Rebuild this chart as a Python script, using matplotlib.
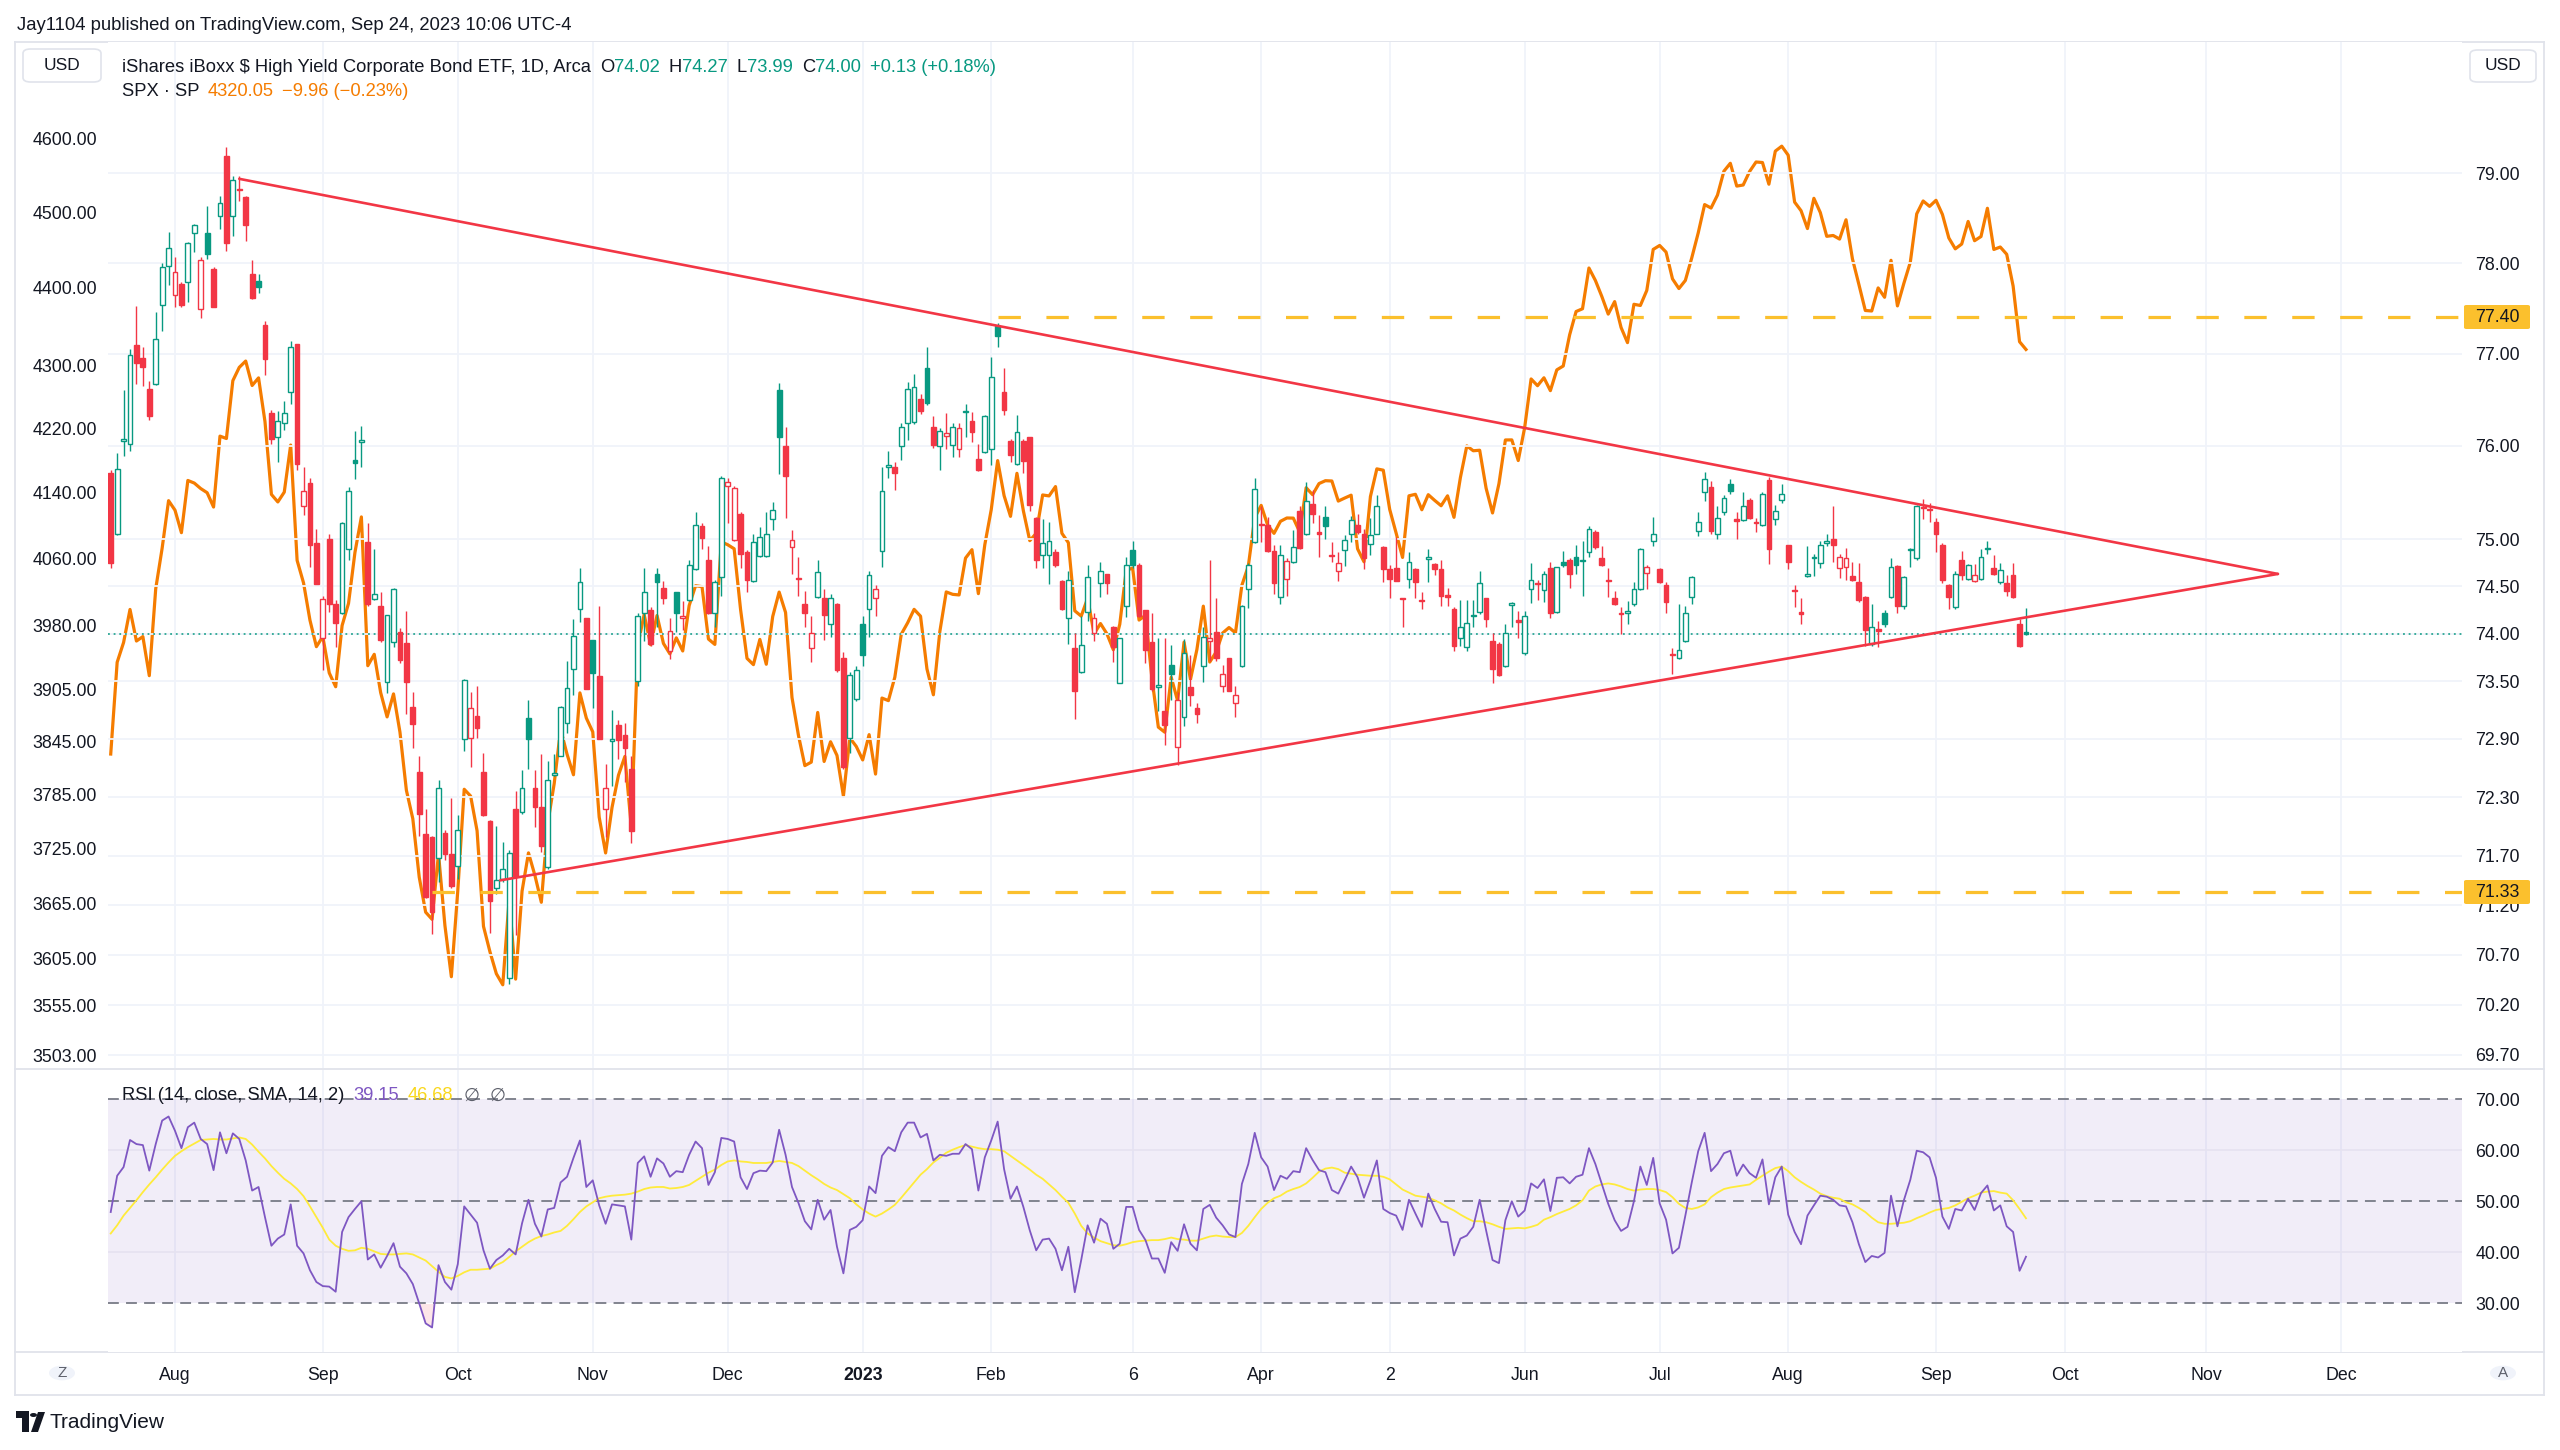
import numpy as np
import pandas as pd
import matplotlib
matplotlib.use("Agg")
import matplotlib.pyplot as plt
from matplotlib.ticker import NullLocator, FixedLocator, FixedFormatter
from matplotlib.patches import Rectangle, FancyBboxPatch, Circle, Polygon
import matplotlib.transforms as mtransforms

plt.rcParams['font.family'] = ['Liberation Sans', 'DejaVu Sans']

# ---------------------------------------------------------------- data
# HYG daily bars, 2022-07-18 .. 2023-09-22
hyg_open = [
 75.71,75.05,76.05,76.02,77.10,76.96,76.62,76.67,77.54,77.97,
 77.65,77.77,77.79,78.34,77.49,78.33,77.93,78.52,79.20,78.52,
 78.83,78.74,77.88,77.80,77.32,76.36,76.10,76.25,76.58,77.11,
 75.35,75.60,74.96,73.95,75.00,74.31,74.22,74.90,75.85,76.04,
 74.97,74.36,74.29,73.49,73.91,74.02,73.90,73.23,72.56,71.92,
 71.89,71.68,71.93,71.72,71.60,72.90,72.91,73.14,72.56,72.06,
 71.37,71.46,70.47,72.18,72.15,73.12,72.39,72.20,71.59,72.53,
 72.72,73.07,73.63,74.26,74.16,73.93,73.56,72.18,72.88,73.04,
 72.94,72.59,73.50,74.22,74.25,74.63,74.48,73.82,74.44,74.16,
 74.35,74.68,75.14,74.78,74.22,74.60,75.57,74.99,75.27,74.86,
 74.55,74.82,74.82,75.22,76.61,76.00,74.92,74.59,74.31,73.85,
 74.39,74.37,74.10,74.31,73.74,72.91,73.32,74.10,74.26,74.37,
 74.87,75.77,75.77,76.00,76.25,76.26,76.51,76.85,76.21,76.00,
 76.11,76.01,75.97,76.37,76.27,75.86,75.93,75.97,77.31,76.59,
 76.05,75.80,76.05,76.10,75.23,74.83,74.83,74.86,74.55,74.16,
 73.85,73.60,74.23,74.01,74.53,74.63,74.07,73.48,74.29,74.88,
 74.73,74.25,73.91,73.44,73.19,73.67,72.82,73.13,73.44,73.22,
 73.66,73.92,74.02,73.45,73.74,73.27,73.66,74.47,74.97,75.16,
 75.15,74.87,74.39,74.58,74.76,75.30,75.05,75.38,75.07,75.24,
 74.83,74.66,74.88,75.05,75.15,75.06,74.95,75.06,74.92,74.68,
 74.69,74.37,74.58,74.68,74.35,74.79,74.74,74.68,74.41,74.26,
 73.95,73.86,74.18,74.23,74.38,73.92,73.89,73.66,74.30,74.14,
 73.80,74.47,74.53,74.46,74.69,74.23,74.76,74.78,74.81,74.77,
 74.86,75.08,74.80,74.56,74.37,74.22,74.22,74.31,74.47,74.64,
 74.98,74.68,74.51,73.78,73.74,73.92,74.39,75.09,75.50,75.56,
 75.06,75.29,75.59,75.21,75.20,75.42,75.18,75.15,75.63,75.21,
 75.42,74.94,74.46,74.23,74.61,74.80,74.75,74.96,75.00,74.69,
 74.70,74.61,74.54,74.39,73.89,74.05,74.22,74.39,74.71,74.29,
 74.88,74.80,75.34,75.32,75.18,74.94,74.51,74.28,74.78,74.58,
 74.56,74.58,74.89,74.69,74.54,74.53,74.62,74.10,74.02]
hyg_high = [
 75.74,75.92,76.61,77.05,77.53,77.08,76.70,77.46,78.00,78.35,
 78.07,77.79,78.24,78.43,78.07,78.64,77.96,78.75,79.30,78.97,
 78.97,78.75,78.03,77.88,77.36,76.39,76.38,76.49,77.14,77.11,
 75.77,75.65,75.11,74.40,75.06,74.35,75.18,75.56,76.16,76.22,
 75.17,74.90,74.44,74.20,74.48,74.06,74.24,73.39,72.72,72.18,
 71.90,72.48,71.96,72.29,72.12,73.52,73.39,73.45,72.76,72.07,
 72.00,71.84,71.76,72.36,72.58,73.31,72.58,72.74,72.67,72.74,
 73.24,73.71,74.15,74.69,74.16,73.93,74.29,72.64,73.20,73.10,
 73.07,72.72,74.22,74.69,74.28,74.69,74.56,74.16,74.44,74.34,
 74.78,75.29,75.17,74.93,74.57,75.68,75.65,75.57,75.29,74.88,
 75.06,75.13,75.29,75.40,76.68,76.21,75.10,74.81,74.45,74.19,
 74.78,74.47,74.42,74.32,73.81,73.60,73.66,74.19,74.66,74.51,
 75.77,75.94,75.83,76.25,76.69,76.78,76.56,77.08,76.32,76.19,
 76.36,76.25,76.25,76.45,76.37,76.02,76.33,76.97,77.34,76.85,
 76.07,76.34,76.07,76.10,75.24,75.21,75.18,74.90,74.57,74.66,
 74.01,74.19,74.72,74.22,74.76,74.63,74.08,73.95,74.81,74.98,
 74.75,74.25,74.22,73.95,73.95,73.88,73.39,73.94,73.77,73.27,
 74.07,74.78,74.37,73.67,73.74,73.45,74.30,74.75,75.65,75.35,
 75.24,74.94,74.94,74.80,75.10,75.35,75.61,75.53,75.26,75.35,
 74.97,74.86,75.04,75.25,75.27,75.11,75.23,75.47,74.93,74.72,
 75.02,74.38,74.86,74.69,74.44,74.90,74.75,74.78,74.48,74.28,
 74.35,74.35,74.35,74.66,74.38,74.01,73.91,74.10,74.33,74.24,
 74.24,74.75,74.57,74.66,74.76,74.70,74.87,74.80,74.94,74.98,
 75.14,75.10,74.93,74.69,74.45,74.28,74.34,74.54,74.91,74.72,
 75.24,74.69,74.54,73.85,74.31,74.29,74.61,75.29,75.72,75.62,
 75.35,75.47,75.64,75.29,75.50,75.44,75.23,75.50,75.66,75.36,
 75.59,74.94,74.51,74.37,74.93,74.84,74.98,75.05,75.35,74.84,
 74.91,74.76,74.75,74.40,74.31,74.13,74.25,74.80,74.72,74.61,
 74.91,75.36,75.43,75.39,75.23,74.96,74.52,74.66,74.87,74.74,
 74.74,74.90,74.98,74.83,74.75,74.62,74.75,74.15,74.27]
hyg_low = [
 74.69,75.04,75.89,75.94,76.67,76.65,76.28,76.66,77.25,77.76,
 77.51,77.51,77.57,78.12,77.39,78.05,77.51,78.38,78.13,78.30,
 78.69,78.25,77.60,77.67,76.77,76.02,75.83,76.17,76.45,75.74,
 75.26,74.70,74.52,73.62,74.23,73.86,74.21,74.78,75.64,75.77,
 74.29,74.35,73.91,73.38,73.86,73.69,73.16,72.81,71.90,71.27,
 70.91,71.43,71.66,71.37,71.46,72.78,72.61,72.91,72.11,70.92,
 71.31,71.43,70.41,70.90,72.13,72.59,71.99,71.74,71.57,72.52,
 72.72,72.96,73.36,74.12,73.42,73.22,72.90,71.89,72.41,72.69,
 72.46,71.83,73.45,73.92,73.87,74.07,74.31,73.73,74.02,74.04,
 74.34,74.67,74.90,74.21,74.07,74.40,75.17,74.98,74.69,74.44,
 74.54,74.81,74.81,75.10,75.70,75.23,74.63,74.40,74.07,73.70,
 74.38,73.93,73.96,73.60,72.59,72.75,73.29,73.66,73.96,74.19,
 74.70,75.65,75.53,75.85,76.06,76.24,76.35,76.44,75.98,75.74,
 75.97,75.88,75.88,76.10,76.04,75.73,75.92,75.79,77.08,76.34,
 75.83,75.79,75.71,75.30,74.69,74.69,74.52,74.70,74.25,73.89,
 73.11,73.59,74.13,73.92,74.39,74.42,73.70,73.48,74.17,74.69,
 74.17,73.69,73.40,73.19,72.84,73.31,72.63,73.03,73.24,73.07,
 73.49,73.71,73.71,73.39,73.40,73.13,73.65,74.27,74.96,74.97,
 74.86,74.42,74.31,74.40,74.75,74.90,75.04,75.17,74.81,75.00,
 74.76,74.56,74.71,74.97,75.06,74.68,74.83,75.05,74.54,74.38,
 74.56,74.07,74.48,74.37,74.26,74.54,74.62,74.29,74.29,73.82,
 73.87,73.82,74.07,74.21,74.07,73.48,73.56,73.65,74.07,73.95,
 73.77,74.32,74.35,74.33,74.16,74.22,74.70,74.48,74.63,74.40,
 74.81,74.90,74.71,74.39,74.30,74.00,74.10,74.29,74.46,74.47,
 74.93,74.53,74.22,73.58,73.73,73.91,74.31,75.03,75.41,75.05,
 75.00,75.26,75.48,75.00,75.19,75.22,75.08,75.14,74.74,75.15,
 75.39,74.68,74.28,74.10,74.60,74.61,74.69,74.93,74.76,74.59,
 74.57,74.55,74.33,73.87,73.87,73.86,74.07,74.38,74.22,74.26,
 74.70,74.78,75.22,75.18,74.86,74.53,74.26,74.26,74.57,74.57,
 74.54,74.57,74.84,74.62,74.52,74.40,74.38,73.86,73.99]
hyg_close = [
 74.75,75.75,76.08,76.99,76.90,76.86,76.32,77.16,77.96,78.17,
 77.90,77.54,78.22,78.42,78.04,78.10,77.52,78.67,78.22,78.93,
 78.81,78.42,77.62,77.74,76.94,76.07,76.27,76.36,77.08,75.80,
 75.51,74.94,74.52,74.36,74.31,74.11,75.17,75.51,75.82,76.06,
 74.31,74.42,73.93,74.20,74.47,73.72,73.49,73.06,72.13,71.28,
 71.13,72.39,71.72,71.39,71.96,73.51,73.22,73.01,72.12,71.24,
 71.45,71.57,71.73,71.49,72.39,72.90,72.20,71.80,72.48,72.55,
 73.23,73.43,73.97,74.54,73.42,73.59,72.90,72.39,72.90,72.89,
 72.81,71.95,74.19,74.44,73.89,74.54,74.38,74.03,74.22,74.19,
 74.72,75.15,75.01,74.22,74.54,75.65,75.61,75.55,74.84,74.57,
 74.97,75.02,75.06,75.31,76.10,75.68,74.99,74.58,74.22,74.01,
 74.65,74.20,74.38,73.62,72.61,73.57,73.62,73.77,74.62,74.47,
 75.52,75.79,75.71,76.21,76.62,76.64,76.38,76.46,76.01,76.16,
 76.14,76.21,76.19,76.38,76.15,75.74,76.32,76.75,77.20,76.39,
 75.90,76.15,75.84,75.36,74.78,74.96,74.98,74.72,74.26,74.57,
 73.40,73.88,74.60,74.16,74.66,74.53,73.86,73.95,74.72,74.73,
 74.19,73.83,73.42,73.46,73.04,73.58,73.30,73.80,73.36,73.16,
 73.96,73.95,73.74,73.58,73.40,73.36,74.29,74.73,75.54,75.15,
 74.87,74.53,74.83,74.77,74.92,74.91,75.41,75.27,75.06,75.14,
 74.82,74.75,74.99,75.20,75.08,74.80,75.04,75.35,74.68,74.58,
 74.56,74.36,74.76,74.54,74.34,74.81,74.68,74.40,74.39,73.87,
 74.07,74.11,74.19,74.53,74.15,73.63,73.57,74.01,74.32,74.12,
 74.19,74.57,74.52,74.63,74.22,74.70,74.72,74.63,74.73,74.78,
 75.11,74.92,74.72,74.55,74.31,74.21,74.24,74.47,74.90,74.70,
 75.06,74.54,74.33,73.77,73.83,74.22,74.60,75.18,75.64,75.09,
 75.23,75.44,75.51,75.19,75.35,75.23,75.17,75.48,74.90,75.30,
 75.48,74.76,74.45,74.21,74.63,74.81,74.94,74.98,74.94,74.81,
 74.80,74.57,74.35,74.04,74.07,74.03,74.10,74.70,74.29,74.60,
 74.90,75.35,75.33,75.31,75.06,74.57,74.39,74.63,74.62,74.72,
 74.62,74.81,74.90,74.63,74.67,74.45,74.39,73.87,74.00]

# S&P 500 close, same days (left scale)
spx_close = [
 3830.85,3936.69,3959.90,3998.95,3961.63,3966.84,3921.05,4023.61,4072.43,4130.29,
 4118.63,4091.19,4155.17,4151.94,4145.19,4140.06,4122.47,4210.24,4207.27,4280.15,
 4297.14,4305.20,4274.04,4283.74,4228.48,4137.99,4128.73,4140.77,4199.12,4057.66,
 4030.61,3986.16,3955.00,3966.85,3924.26,3908.19,3979.87,4006.18,4067.36,4110.41,
 3932.69,3946.01,3901.35,3873.33,3899.89,3855.93,3789.93,3757.99,3693.23,3655.04,
 3647.29,3719.04,3640.47,3585.62,3678.43,3790.93,3783.28,3744.52,3639.66,3612.39,
 3588.84,3577.03,3669.91,3583.07,3677.95,3719.98,3695.16,3665.78,3752.75,3797.34,
 3859.11,3830.60,3807.30,3901.06,3871.98,3856.10,3759.69,3719.89,3770.55,3806.80,
 3828.11,3748.57,3956.37,3992.93,3957.25,3991.73,3958.79,3946.56,3965.34,3949.94,
 4003.58,4027.26,4026.12,3963.94,3957.63,4080.11,4076.57,4071.70,3998.84,3941.26,
 3933.92,3963.51,3934.38,3990.56,4019.65,3995.32,3895.75,3852.36,3817.66,3821.62,
 3878.44,3822.39,3844.82,3829.25,3783.22,3849.28,3839.50,3824.14,3852.97,3808.10,
 3895.08,3892.09,3919.25,3969.61,3983.17,3999.09,3990.97,3928.86,3898.85,3972.61,
 4019.81,4016.95,4016.22,4060.43,4070.56,4017.77,4076.60,4119.21,4179.76,4136.48,
 4111.08,4164.00,4117.86,4081.50,4090.46,4137.29,4136.13,4147.60,4090.41,4079.09,
 3997.34,3991.05,4012.32,3970.04,3982.24,3970.15,3951.39,3981.35,4045.64,4048.42,
 3986.37,3992.01,3918.32,3861.59,3855.76,3919.29,3891.93,3960.28,3916.64,3951.57,
 4002.87,3936.97,3948.72,3970.99,3977.53,3971.27,4027.81,4050.83,4109.31,4124.51,
 4100.60,4090.38,4105.02,4109.11,4108.94,4091.95,4146.22,4137.64,4151.32,4154.87,
 4154.52,4129.79,4133.52,4137.04,4071.63,4055.99,4135.35,4169.48,4167.87,4119.58,
 4090.75,4061.22,4136.25,4138.12,4119.17,4137.64,4130.62,4124.08,4136.28,4109.90,
 4158.77,4198.05,4191.98,4192.63,4145.58,4115.24,4151.28,4205.45,4205.52,4179.83,
 4221.02,4282.37,4273.79,4283.85,4267.52,4293.93,4298.86,4338.93,4369.01,4372.59,
 4425.84,4409.59,4388.71,4365.69,4381.89,4348.33,4328.82,4378.41,4376.86,4396.44,
 4450.38,4455.59,4446.82,4411.59,4398.95,4409.53,4439.26,4472.16,4510.04,4505.42,
 4522.79,4554.98,4565.72,4534.87,4536.34,4554.64,4567.46,4566.75,4537.41,4582.23,
 4588.96,4576.73,4513.39,4501.89,4478.03,4518.44,4499.38,4467.71,4468.83,4464.05,
 4489.72,4437.86,4404.33,4370.36,4369.71,4399.77,4387.55,4436.01,4376.31,4405.71,
 4433.31,4497.63,4514.87,4507.66,4515.77,4496.83,4465.48,4451.14,4457.49,4487.46,
 4461.90,4467.44,4505.10,4450.32,4453.53,4443.95,4402.20,4330.01,4320.05]

rsi_vals = [
 47.9,55.0,56.7,62.0,61.2,61.0,56.0,61.2,65.8,66.6,
 63.8,60.4,64.5,65.4,62.2,61.2,56.1,63.5,59.4,63.3,
 62.2,58.0,52.1,52.8,46.9,41.3,42.7,43.5,49.4,41.3,
 39.8,36.5,34.2,33.4,33.3,32.3,44.0,46.9,48.5,50.0,
 38.6,39.6,37.0,39.3,41.8,37.2,35.9,33.8,30.0,26.1,
 25.3,37.5,34.2,32.7,37.7,49.0,47.4,45.8,40.4,36.8,
 38.5,39.4,40.7,39.6,45.7,50.3,45.6,43.1,48.4,48.7,
 53.7,54.8,58.5,61.9,52.8,54.1,49.2,45.6,49.4,49.2,
 49.0,42.5,57.5,58.8,54.8,58.4,57.4,54.8,55.9,55.7,
 59.1,61.7,60.4,53.2,55.7,62.4,62.2,61.7,54.7,52.4,
 55.5,56.0,55.9,57.6,64.0,59.1,52.8,49.7,46.1,44.5,
 50.3,46.4,48.3,41.1,35.9,44.4,45.0,46.3,52.9,51.6,
 58.9,60.6,59.8,63.5,65.4,65.4,62.5,63.2,58.0,59.1,
 58.9,59.3,59.3,61.2,60.2,52.1,58.6,61.9,65.6,56.3,
 50.5,52.9,48.9,44.3,40.4,42.5,42.7,40.7,36.5,41.1,
 32.2,38.5,45.3,41.9,46.6,45.6,40.7,41.7,48.9,48.9,
 44.4,42.4,38.8,38.8,36.0,42.0,40.3,45.5,41.7,40.4,
 48.5,49.3,46.8,45.3,43.5,43.0,53.4,57.3,63.4,58.6,
 56.8,52.2,55.0,54.4,55.9,55.7,60.4,58.1,56.1,55.7,
 52.2,51.5,54.1,56.8,54.7,50.7,54.1,58.0,48.5,47.7,
 47.2,44.4,50.3,47.6,45.0,51.5,48.5,46.0,45.9,39.4,
 42.7,43.3,45.0,50.3,44.3,38.5,37.9,46.3,50.0,47.0,
 48.2,53.5,52.6,54.3,48.1,54.6,54.7,53.5,54.8,55.2,
 60.4,57.3,53.4,49.5,46.3,44.2,45.0,50.0,56.8,53.2,
 58.5,49.6,46.4,39.8,40.9,47.2,53.7,59.8,63.4,55.9,
 57.3,59.4,59.9,55.0,57.2,55.5,54.6,58.2,49.4,54.7,
 56.8,47.4,44.0,41.6,47.2,49.2,51.1,50.9,50.3,49.2,
 49.0,45.9,41.6,38.1,39.3,39.0,39.9,51.1,45.1,50.2,
 54.2,59.9,59.6,58.6,54.6,47.0,44.6,48.5,48.2,50.5,
 48.3,51.6,53.1,48.2,49.2,45.1,44.0,36.4,39.15]
rsi_sma = [
 43.7,45.3,47.2,48.7,50.2,51.8,53.3,54.7,56.2,57.6,
 58.9,59.8,60.6,61.3,62.0,62.1,62.2,62.1,62.1,62.3,
 62.5,62.2,61.1,59.7,58.4,56.9,55.6,54.4,53.5,52.4,
 51.0,49.0,46.9,44.8,42.5,41.3,40.7,40.3,40.4,40.9,
 40.7,40.2,39.7,39.6,39.6,39.7,39.8,39.6,39.0,38.4,
 37.3,36.2,35.2,34.9,35.4,36.1,36.6,36.6,36.7,36.8,
 37.5,38.1,39.1,40.2,41.1,42.0,42.7,43.2,43.5,43.9,
 44.2,45.2,46.5,47.9,49.0,49.8,50.6,50.9,51.1,51.2,
 51.3,51.5,51.9,52.4,52.7,52.8,52.8,52.5,52.6,52.8,
 53.2,54.0,54.8,55.6,56.2,57.1,57.8,58.0,57.8,57.7,
 57.5,57.5,57.5,57.7,57.9,57.7,57.5,56.9,56.0,55.1,
 54.3,53.4,52.7,52.2,51.4,50.6,49.4,48.4,47.6,47.0,
 47.6,48.4,49.3,50.7,52.2,53.7,55.2,56.3,57.6,58.5,
 59.5,60.1,60.6,61.0,60.7,60.4,60.2,60.2,60.1,59.8,
 58.9,58.0,57.1,56.2,55.2,54.4,53.3,52.2,50.9,49.7,
 47.6,45.2,43.7,42.9,42.2,41.8,41.4,41.3,41.6,42.0,
 42.2,42.3,42.4,42.4,42.6,42.9,42.6,42.5,42.3,42.3,
 42.7,43.1,43.3,43.1,43.0,43.0,43.8,45.2,46.9,48.5,
 49.7,50.6,51.1,51.9,52.4,52.8,53.5,54.6,55.8,56.4,
 56.6,56.3,55.6,55.4,55.2,55.1,55.0,55.0,54.8,54.3,
 53.3,52.3,51.7,51.1,50.9,50.7,50.2,49.6,48.8,48.2,
 47.4,46.7,46.1,46.1,45.9,45.5,45.0,44.6,44.7,44.8,
 44.7,45.0,45.4,46.4,46.9,47.5,48.0,48.5,49.2,50.2,
 52.1,52.9,53.3,53.5,53.3,52.9,52.4,52.1,52.3,52.4,
 52.4,52.2,51.8,50.8,49.5,48.7,48.5,48.8,49.4,50.8,
 51.7,52.4,52.7,52.9,53.1,53.3,54.2,55.0,55.8,56.5,
 56.8,55.9,54.7,53.8,53.0,52.3,51.5,51.0,50.7,50.5,
 49.8,49.4,48.7,47.9,46.8,45.9,45.6,45.6,45.7,45.8,
 46.1,46.7,47.2,47.8,48.3,48.5,48.7,49.2,49.9,50.6,
 51.1,51.7,51.9,52.0,51.7,51.5,50.2,48.5,46.68]

# drawings (time as trading-day index from 2022-08-01, price on HYG scale)
upper_trend = [(10.0, 78.94), (327.2, 74.63)]
lower_trend = [(50.6, 71.45), (327.2, 74.63)]
level_hi, level_hi_start = 77.40, 128
level_lo, level_lo_start = 71.33, 40
last_price = 74.00

hyg_ticks = [79.00, 78.00, 77.00, 76.00, 75.00, 74.50, 74.00, 73.50, 72.90,
             72.30, 71.70, 71.20, 70.70, 70.20, 69.70]
spx_ticks = [4600, 4500, 4400, 4300, 4220, 4140, 4060, 3980, 3905, 3845,
             3785, 3725, 3665, 3605, 3555, 3503]
rsi_ticks = [70, 60, 50, 40, 30]

month_dates = ['2022-08-01', '2022-09-01', '2022-10-03', '2022-11-01', '2022-12-01',
               '2023-01-03', '2023-02-01', '2023-03-06', '2023-04-03', '2023-05-02',
               '2023-06-01', '2023-07-03', '2023-08-01', '2023-09-01', '2023-10-02',
               '2023-11-01', '2023-12-01']
month_labels = ['Aug', 'Sep', 'Oct', 'Nov', 'Dec', '2023', 'Feb', '6', 'Apr', '2',
                'Jun', 'Jul', 'Aug', 'Sep', 'Oct', 'Nov', 'Dec']

# ---------------------------------------------------------------- calendar
holidays = pd.to_datetime(['2022-09-05', '2022-11-24', '2022-12-26', '2023-01-02',
                           '2023-01-16', '2023-02-20', '2023-04-07', '2023-05-29',
                           '2023-06-19', '2023-07-04', '2023-09-04', '2023-11-23',
                           '2023-12-25'])
cal = pd.bdate_range('2022-07-18', '2023-12-29')
cal = cal[~cal.isin(holidays)]
origin = cal.get_loc(pd.Timestamp('2022-08-01'))
cal_pos = pd.Series(np.arange(len(cal)) - origin, index=cal)
tick_pos = [cal_pos[pd.Timestamp(d)] for d in month_dates]

n = len(hyg_close)
xb = np.arange(n) - origin

# ---------------------------------------------------------------- styling
W, H, DPI = 2560, 1450, 100
GREEN, RED = '#089981', '#F23645'
ORANGE = '#F57C00'
AMBER = '#FBC02D'
TEXT = '#131722'
GRID = '#F0F3FA'
BORDER = '#E0E3EB'
PURPLE = '#7E57C2'
YELLOW = '#FFEB3B'
FS = 13.2

def fx(x):
    return x / W

def fy(y):
    return 1 - y / H

fig = plt.figure(figsize=(W / DPI, H / DPI), dpi=DPI, facecolor='white')

L, R = 108, 2462
T1, B1 = 42, 1068
T2, B2 = 1070, 1352
XMIN, XMAX = (L - 175) / 6.427, (R - 175) / 6.427

ax_spx = fig.add_axes([fx(L), fy(B1), fx(R - L), (B1 - T1) / H])
ax = ax_spx.twinx()
ax_rsi = fig.add_axes([fx(L), fy(B2), fx(R - L), (B2 - T2) / H])

for a in (ax_spx, ax, ax_rsi):
    a.set_xlim(XMIN, XMAX)
    for s in a.spines.values():
        s.set_visible(False)
    a.tick_params(length=0)
    a.set_xticks([])
ax_spx.set_facecolor('white')
ax.patch.set_visible(False)

# log scales
ax.set_yscale('log')
ax.set_ylim(69.57, 80.49)
ax_spx.set_yscale('log')
ax_spx.set_ylim(3489.7, 4733.2)
for a, ticks in ((ax, hyg_ticks), (ax_spx, spx_ticks)):
    a.yaxis.set_minor_locator(NullLocator())
    a.yaxis.set_major_locator(FixedLocator(ticks))
    a.yaxis.set_major_formatter(FixedFormatter(['%.2f' % t for t in ticks]))
ax.yaxis.tick_right()
ax_spx.yaxis.tick_left()
ax.tick_params(axis='y', pad=9.5, labelsize=12.8, labelcolor=TEXT)
ax_spx.tick_params(axis='y', pad=8, labelsize=12.8, labelcolor=TEXT)

# grid
for t in hyg_ticks:
    ax.axhline(t, color=GRID, lw=1.3, zorder=0)
for p in tick_pos:
    ax_spx.axvline(p, color=GRID, lw=1.3, zorder=0)
    ax_rsi.axvline(p, color=GRID, lw=1.3, zorder=0)

# SPX line
ax_spx.plot(xb, spx_close, color=ORANGE, lw=2.3, zorder=2, solid_joinstyle='round')

# candles
o = np.array(hyg_open); h = np.array(hyg_high)
lo = np.array(hyg_low); c = np.array(hyg_close)
prev = np.r_[o[0], c[:-1]]
cols = np.where(c >= prev, GREEN, RED)
hollow = c > o
ax.vlines(xb, lo, h, colors=cols, lw=1.0, zorder=3)
bottoms = np.minimum(o, c)
heights = np.maximum(np.abs(c - o), 0.012)
faces = np.where(hollow, 'white', cols)
ax.bar(xb, heights, width=0.74, bottom=bottoms, color=list(faces),
       edgecolor=list(cols), linewidth=1.0, zorder=4)

# last-price dotted line
ax.axhline(last_price, color=GREEN, lw=1.1, ls=(0, (1.2, 2.5)), zorder=2.5)

# horizontal levels
ax.hlines([level_hi], level_hi_start, XMAX, color=AMBER, lw=2.3, ls=(0, (7, 8)), zorder=5)
ax.hlines([level_lo], level_lo_start, XMAX, color=AMBER, lw=2.3, ls=(0, (7, 8)), zorder=5)

# trend lines
for seg in (upper_trend, lower_trend):
    ax.plot([seg[0][0], seg[1][0]], [seg[0][1], seg[1][1]], color=RED, lw=1.9,
            zorder=6, solid_capstyle='round')

# ---------------------------------------------------------------- RSI pane
ax_rsi.set_ylim(20.5, 75.7)
ax_rsi.axhspan(30, 70, color=PURPLE, alpha=0.10, lw=0, zorder=0.5)
for lv in (60, 40):
    ax_rsi.axhline(lv, color='#E6E2F0', lw=1.2, zorder=0.6)
for lv in (70, 50, 30):
    ax_rsi.axhline(lv, color='#787B86', lw=1.3, ls=(0, (6, 4)), zorder=1)
rsi_arr = np.array(rsi_vals)
ax_rsi.fill_between(xb, rsi_arr, 30, where=rsi_arr < 30, interpolate=True,
                    color=RED, alpha=0.12, lw=0, zorder=1)
ax_rsi.plot(xb, rsi_sma, color=YELLOW, lw=1.3, zorder=2)
ax_rsi.plot(xb, rsi_vals, color=PURPLE, lw=1.3, zorder=3)
ax_rsi.yaxis.tick_right()
ax_rsi.set_yticks(rsi_ticks)
ax_rsi.set_yticklabels(['%.2f' % t for t in rsi_ticks])
ax_rsi.yaxis.set_minor_locator(NullLocator())
ax_rsi.tick_params(axis='y', pad=9.5, labelsize=12.8, labelcolor=TEXT)

# ---------------------------------------------------------------- frame lines
def hline_px(y, x0=15, x1=2544, color=BORDER, lw=1.3):
    fig.add_artist(plt.Line2D([fx(x0), fx(x1)], [fy(y), fy(y)], color=color, lw=lw,
                              transform=fig.transFigure, zorder=0))

def vline_px(x, y0, y1, color=BORDER, lw=1.3):
    fig.add_artist(plt.Line2D([fx(x), fx(x)], [fy(y0), fy(y1)], color=color, lw=lw,
                              transform=fig.transFigure, zorder=0))

hline_px(42)
hline_px(1069)
hline_px(1352)
hline_px(1395)
vline_px(15, 42, 1395)
vline_px(2544, 42, 1395)

# ---------------------------------------------------------------- time axis labels
btrans = mtransforms.blended_transform_factory(ax_rsi.transData, fig.transFigure)
for p, lab in zip(tick_pos, month_labels):
    fig.text(p, fy(1375), lab, transform=btrans, ha='center', va='center',
             fontsize=12.8, color=TEXT, fontweight='bold' if lab == '2023' else 'normal')

for cx, letter in ((62, 'Z'), (2503, 'A')):
    fig.add_artist(Circle((fx(cx), fy(1373)), radius=13 / W, transform=fig.transFigure,
                          facecolor='#F0F3FA', edgecolor='none'))
    fig.text(fx(cx), fy(1373), letter, ha='center', va='center', fontsize=11,
             color='#5D606B')

# ---------------------------------------------------------------- price labels (right)
for val, yc in ((level_hi, 317), (level_lo, 892)):
    fig.add_artist(FancyBboxPatch((fx(2464), fy(yc + 12)), fx(66), 24 / H,
                                  boxstyle='round,pad=0,rounding_size=0.001',
                                  transform=fig.transFigure, facecolor=AMBER,
                                  edgecolor='none', zorder=10))
    fig.text(fx(2475), fy(yc), '%.2f' % val, ha='left', va='center', fontsize=12.8,
             color=TEXT, zorder=11)

# USD boxes
for (x0, y0, w, hh) in ((23, 49, 78, 33), (2470, 50, 66, 32)):
    fig.add_artist(FancyBboxPatch((fx(x0), fy(y0 + hh)), fx(w), hh / H,
                                  boxstyle='round,pad=0,rounding_size=0.003',
                                  transform=fig.transFigure, facecolor='white',
                                  edgecolor=BORDER, lw=1.2, zorder=10))
    fig.text(fx(x0 + w / 2), fy(y0 + hh / 2), 'USD', ha='center', va='center',
             fontsize=12.5, color=TEXT, zorder=11)

# ---------------------------------------------------------------- header & legends
fig.text(fx(17), fy(25), 'Jay1104 published on TradingView.com, Sep 24, 2023 10:06 UTC-4',
         ha='left', va='center', fontsize=13.3, color=TEXT)

def seq(x, y, parts, size=FS):
    """draw consecutive text parts starting at pixel x."""
    renderer = fig.canvas.get_renderer()
    for txt, col, gap in parts:
        t = fig.text(fx(x), fy(y), txt, ha='left', va='center', fontsize=size, color=col)
        bb = t.get_window_extent(renderer=renderer)
        x = x + bb.width + gap

seq(122, 67, [('iShares iBoxx $ High Yield Corporate Bond ETF, 1D, Arca', TEXT, 9),
              ('O', TEXT, 0), ('74.02', GREEN, 9),
              ('H', TEXT, 0), ('74.27', GREEN, 9),
              ('L', TEXT, 0), ('73.99', GREEN, 9),
              ('C', TEXT, 0), ('74.00', GREEN, 9),
              ('+0.13 (+0.18%)', GREEN, 0)])
seq(122, 92, [('SPX · SP', TEXT, 8), ('4320.05', ORANGE, 8),
              ('\u22129.96 (\u22120.23%)', ORANGE, 0)])
seq(122, 1096, [('RSI (14, close, SMA, 14, 2)', TEXT, 9), ('39.15', PURPLE, 9),
                ('46.68', '#F9D71C', 10), ('\u2205', '#5D606B', 10), ('\u2205', '#5D606B', 0)])

# ---------------------------------------------------------------- TradingView logo
fig.add_artist(Rectangle((fx(16), fy(1418)), fx(13), 7 / H, transform=fig.transFigure,
                         facecolor=TEXT, edgecolor='none'))
fig.add_artist(Rectangle((fx(22), fy(1432)), fx(7), 21 / H, transform=fig.transFigure,
                         facecolor=TEXT, edgecolor='none'))
fig.add_artist(Polygon([(fx(31), fy(1432)), (fx(38), fy(1412)), (fx(45), fy(1412)),
                        (fx(38), fy(1432))], closed=True, transform=fig.transFigure,
                       facecolor=TEXT, edgecolor='none'))
fig.add_artist(Circle((fx(33.5), fy(1415)), radius=3.5 / W, transform=fig.transFigure,
                      facecolor=TEXT, edgecolor='none'))
fig.text(fx(49), fy(1423), 'TradingView', ha='left', va='center', fontsize=15,
         color=TEXT, fontweight='medium')

fig.savefig('out.png', dpi=DPI, facecolor='white')
